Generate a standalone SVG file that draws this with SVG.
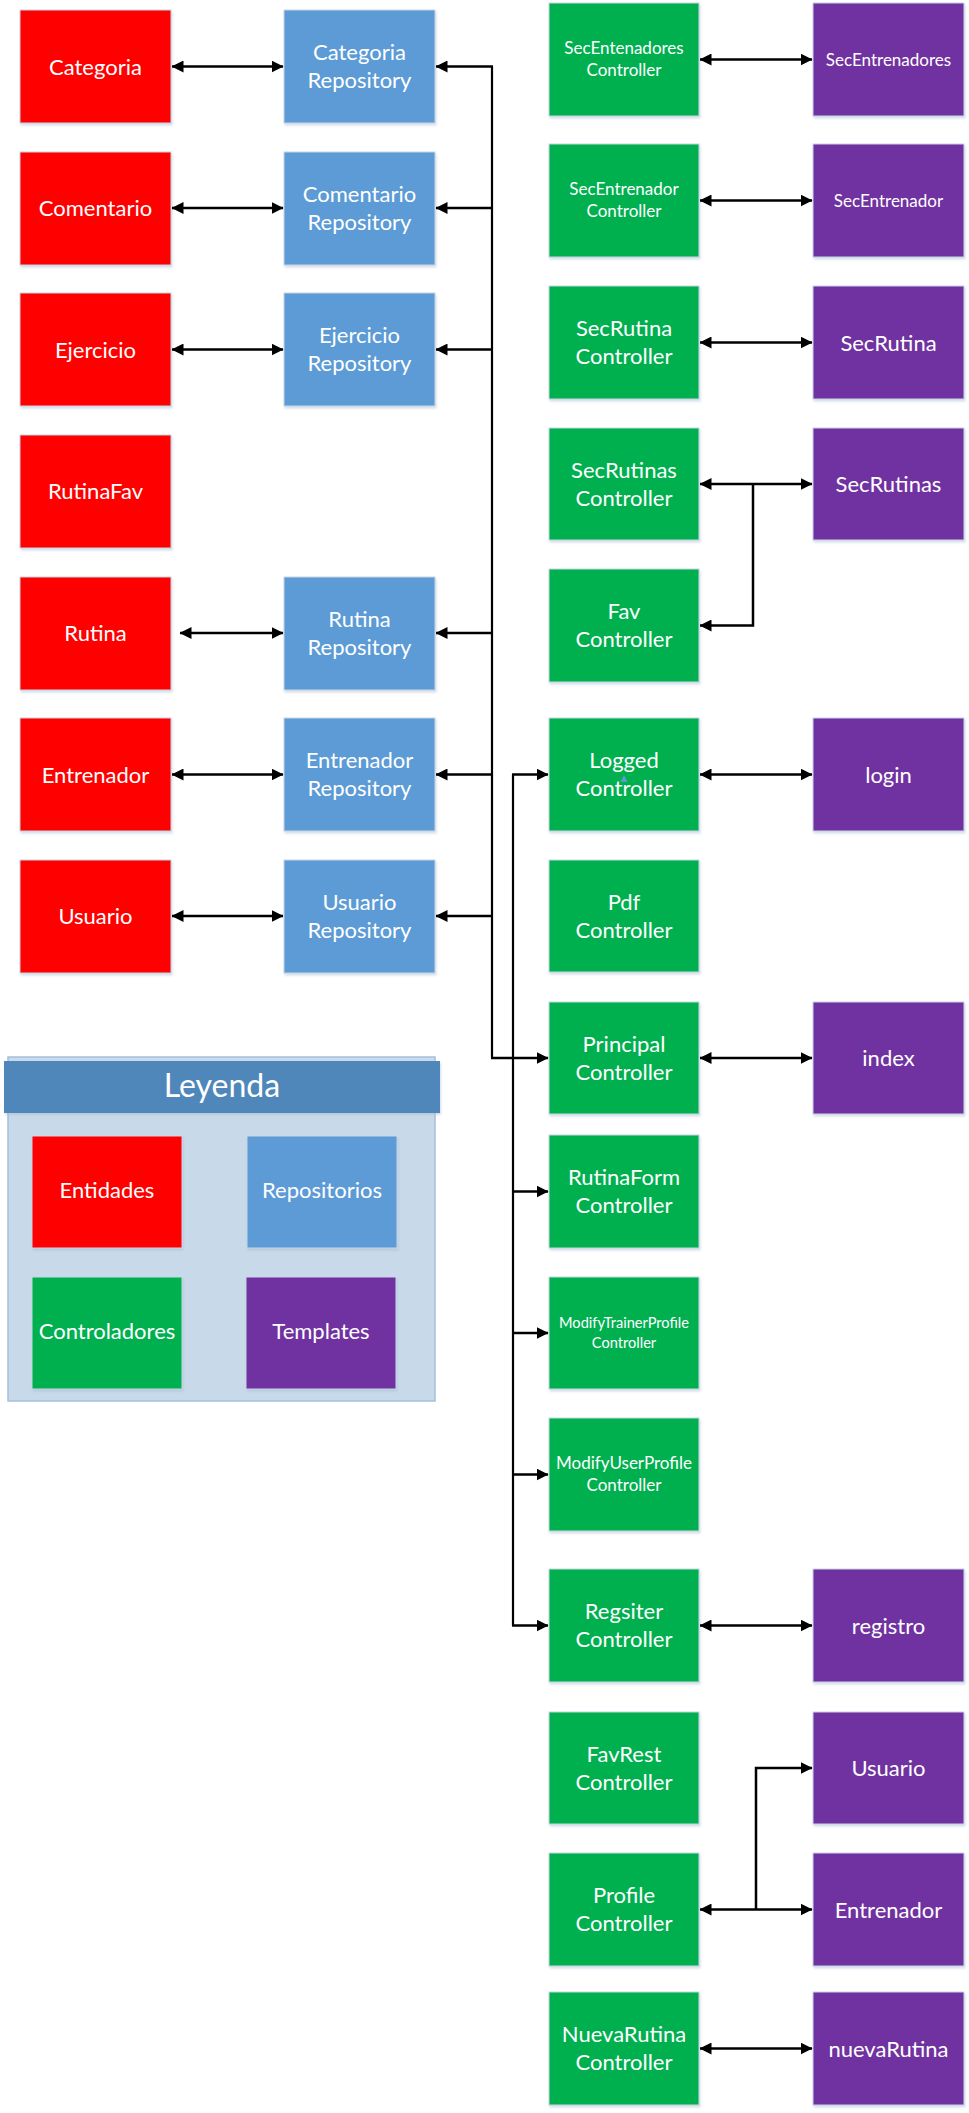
<svg xmlns="http://www.w3.org/2000/svg" width="969" height="2113" viewBox="0 0 969 2113">
<defs>
<marker id="ah" viewBox="0 0 12 12" refX="11.5" refY="6" markerWidth="12" markerHeight="12" markerUnits="userSpaceOnUse" orient="auto-start-reverse">
<path d="M0,0 L12,6 L0,12 z" fill="#000"/>
</marker>
<filter id="sh" x="-5%" y="-5%" width="115%" height="115%">
<feDropShadow dx="1" dy="2" stdDeviation="1.2" flood-color="#9fb6cf" flood-opacity="0.45"/>
</filter>
</defs>
<style>
.box{stroke:#c9d6e4;stroke-width:1;filter:url(#sh)}
.ent{fill:#ff0000}
.rep{fill:#5b9bd5}
.ctl{fill:#00b050}
.tpl{fill:#7030a0}
text{font-family:Lato,"Open Sans","Noto Sans",sans-serif;fill:#ffffff;text-anchor:middle}
.b{font-size:22px}
.s{font-size:17px}
.xs{font-size:14.6px}
.lg{font-size:32px}
.c{fill:none;stroke:#000;stroke-width:2.5}
.d{marker-start:url(#ah);marker-end:url(#ah)}
.e{marker-end:url(#ah)}
.bus{fill:none;stroke:#000;stroke-width:2.2}
</style>

<!-- Entities -->
<g id="n-categoria"><rect class="box ent" x="20" y="10" width="151" height="113"/><text class="b" x="95.5" y="74.5">Categoria</text></g>
<g id="n-comentario"><rect class="box ent" x="20" y="152" width="151" height="113"/><text class="b" x="95.5" y="216">Comentario</text></g>
<g id="n-ejercicio"><rect class="box ent" x="20" y="293" width="151" height="113"/><text class="b" x="95.5" y="357.5">Ejercicio</text></g>
<g id="n-rutinafav"><rect class="box ent" x="20" y="435" width="151" height="113"/><text class="b" x="95.5" y="499">RutinaFav</text></g>
<g id="n-rutina"><rect class="box ent" x="20" y="577" width="151" height="113"/><text class="b" x="95.5" y="641">Rutina</text></g>
<g id="n-entrenador"><rect class="box ent" x="20" y="718" width="151" height="113"/><text class="b" x="95.5" y="782.5">Entrenador</text></g>
<g id="n-usuario"><rect class="box ent" x="20" y="860" width="151" height="113"/><text class="b" x="95.5" y="924">Usuario</text></g>

<!-- Repositories -->
<g id="n-categoria-repo"><rect class="box rep" x="284" y="10" width="151" height="113"/><text class="b" x="359.5" y="60">Categoria</text><text class="b" x="359.5" y="88">Repository</text></g>
<g id="n-comentario-repo"><rect class="box rep" x="284" y="152" width="151" height="113"/><text class="b" x="359.5" y="201.5">Comentario</text><text class="b" x="359.5" y="229.5">Repository</text></g>
<g id="n-ejercicio-repo"><rect class="box rep" x="284" y="293" width="151" height="113"/><text class="b" x="359.5" y="343">Ejercicio</text><text class="b" x="359.5" y="371">Repository</text></g>
<g id="n-rutina-repo"><rect class="box rep" x="284" y="577" width="151" height="113"/><text class="b" x="359.5" y="626.5">Rutina</text><text class="b" x="359.5" y="654.5">Repository</text></g>
<g id="n-entrenador-repo"><rect class="box rep" x="284" y="718" width="151" height="113"/><text class="b" x="359.5" y="768">Entrenador</text><text class="b" x="359.5" y="796">Repository</text></g>
<g id="n-usuario-repo"><rect class="box rep" x="284" y="860" width="151" height="113"/><text class="b" x="359.5" y="909.5">Usuario</text><text class="b" x="359.5" y="937.5">Repository</text></g>

<!-- Controllers -->
<g id="n-secentenadores-ctl"><rect class="box ctl" x="549" y="3" width="150" height="113"/><text class="s" x="624" y="54">SecEntenadores</text><text class="s" x="624" y="76">Controller</text></g>
<g id="n-secentrenador-ctl"><rect class="box ctl" x="549" y="144" width="150" height="113"/><text class="s" x="624" y="195">SecEntrenador</text><text class="s" x="624" y="217">Controller</text></g>
<g id="n-secrutina-ctl"><rect class="box ctl" x="549" y="286" width="150" height="113"/><text class="b" x="624" y="336">SecRutina</text><text class="b" x="624" y="364">Controller</text></g>
<g id="n-secrutinas-ctl"><rect class="box ctl" x="549" y="428" width="150" height="112"/><text class="b" x="624" y="477.5">SecRutinas</text><text class="b" x="624" y="505.5">Controller</text></g>
<g id="n-fav-ctl"><rect class="box ctl" x="549" y="569" width="150" height="113"/><text class="b" x="624" y="619">Fav</text><text class="b" x="624" y="647">Controller</text></g>
<g id="n-logged-ctl"><rect class="box ctl" x="549" y="718" width="150" height="113"/><text class="b" x="624" y="768">Logged</text><text class="b" x="624" y="796">Controller</text><polygon points="624,775 627.5,782 620.5,782" fill="#5b9bd5"/></g>
<g id="n-pdf-ctl"><rect class="box ctl" x="549" y="860" width="150" height="112"/><text class="b" x="624" y="909.5">Pdf</text><text class="b" x="624" y="937.5">Controller</text></g>
<g id="n-principal-ctl"><rect class="box ctl" x="549" y="1002" width="150" height="112"/><text class="b" x="624" y="1051.5">Principal</text><text class="b" x="624" y="1079.5">Controller</text></g>
<g id="n-rutinaform-ctl"><rect class="box ctl" x="549" y="1135" width="150" height="113"/><text class="b" x="624" y="1185">RutinaForm</text><text class="b" x="624" y="1213">Controller</text></g>
<g id="n-modifytrainer-ctl"><rect class="box ctl" x="549" y="1277" width="150" height="112"/><text class="xs" x="624" y="1328">ModifyTrainerProfile</text><text class="xs" x="624" y="1348">Controller</text></g>
<g id="n-modifyuser-ctl"><rect class="box ctl" x="549" y="1418" width="150" height="113"/><text class="s" x="624" y="1469">ModifyUserProfile</text><text class="s" x="624" y="1491">Controller</text></g>
<g id="n-regsiter-ctl"><rect class="box ctl" x="549" y="1569" width="150" height="113"/><text class="b" x="624" y="1619">Regsiter</text><text class="b" x="624" y="1647">Controller</text></g>
<g id="n-favrest-ctl"><rect class="box ctl" x="549" y="1712" width="150" height="112"/><text class="b" x="624" y="1761.5">FavRest</text><text class="b" x="624" y="1789.5">Controller</text></g>
<g id="n-profile-ctl"><rect class="box ctl" x="549" y="1853" width="150" height="113"/><text class="b" x="624" y="1903">Profile</text><text class="b" x="624" y="1931">Controller</text></g>
<g id="n-nuevarutina-ctl"><rect class="box ctl" x="549" y="1992" width="150" height="113"/><text class="b" x="624" y="2042">NuevaRutina</text><text class="b" x="624" y="2070">Controller</text></g>

<!-- Templates -->
<g id="n-secentrenadores-tpl"><rect class="box tpl" x="813" y="3" width="151" height="113"/><text class="s" x="888.5" y="65.5">SecEntrenadores</text></g>
<g id="n-secentrenador-tpl"><rect class="box tpl" x="813" y="144" width="151" height="113"/><text class="s" x="888.5" y="206.5">SecEntrenador</text></g>
<g id="n-secrutina-tpl"><rect class="box tpl" x="813" y="286" width="151" height="113"/><text class="b" x="888.5" y="350.5">SecRutina</text></g>
<g id="n-secrutinas-tpl"><rect class="box tpl" x="813" y="428" width="151" height="112"/><text class="b" x="888.5" y="492">SecRutinas</text></g>
<g id="n-login-tpl"><rect class="box tpl" x="813" y="718" width="151" height="113"/><text class="b" x="888.5" y="782.5">login</text></g>
<g id="n-index-tpl"><rect class="box tpl" x="813" y="1002" width="151" height="112"/><text class="b" x="888.5" y="1066">index</text></g>
<g id="n-registro-tpl"><rect class="box tpl" x="813" y="1569" width="151" height="113"/><text class="b" x="888.5" y="1633.5">registro</text></g>
<g id="n-usuario-tpl"><rect class="box tpl" x="813" y="1712" width="151" height="112"/><text class="b" x="888.5" y="1776">Usuario</text></g>
<g id="n-entrenador-tpl"><rect class="box tpl" x="813" y="1853" width="151" height="113"/><text class="b" x="888.5" y="1917.5">Entrenador</text></g>
<g id="n-nuevarutina-tpl"><rect class="box tpl" x="813" y="1992" width="151" height="113"/><text class="b" x="888.5" y="2056.5">nuevaRutina</text></g>

<!-- Legend -->
<g id="legend">
<rect x="8" y="1057" width="427" height="344" fill="#c8daea" stroke="#a5c0dc" stroke-width="1.5"/>
<rect x="4" y="1061" width="436" height="52" fill="#4f87ba" filter="url(#sh)"/>
<text class="lg" x="222" y="1097">Leyenda</text>
<g id="legend-entidades"><rect class="box ent" x="32" y="1136" width="150" height="112"/><text class="b" x="107" y="1198">Entidades</text></g>
<g id="legend-repositorios"><rect class="box rep" x="247" y="1136" width="150" height="112"/><text class="b" x="322" y="1198">Repositorios</text></g>
<g id="legend-controladores"><rect class="box ctl" x="32" y="1277" width="150" height="112"/><text class="b" x="107" y="1339">Controladores</text></g>
<g id="legend-templates"><rect class="box tpl" x="246" y="1277" width="150" height="112"/><text class="b" x="321" y="1339">Templates</text></g>
</g>

<!-- Connectors -->
<g id="connectors">
<line class="c d" x1="172" y1="66.5" x2="283" y2="66.5"/>
<line class="c d" x1="172" y1="208" x2="283" y2="208"/>
<line class="c d" x1="172" y1="349.5" x2="283" y2="349.5"/>
<line class="c d" x1="180" y1="633" x2="283" y2="633"/>
<line class="c d" x1="172" y1="774.5" x2="283" y2="774.5"/>
<line class="c d" x1="172" y1="916" x2="283" y2="916"/>

<polyline class="bus" points="492,66.5 492,1058"/>
<line class="c e" x1="493" y1="66.5" x2="436" y2="66.5"/>
<line class="c e" x1="492" y1="208" x2="436" y2="208"/>
<line class="c e" x1="492" y1="349.5" x2="436" y2="349.5"/>
<line class="c e" x1="492" y1="633" x2="436" y2="633"/>
<line class="c e" x1="492" y1="774.5" x2="436" y2="774.5"/>
<line class="c e" x1="492" y1="916" x2="436" y2="916"/>
<line class="c e" x1="491" y1="1058" x2="548" y2="1058"/>

<polyline class="bus" points="513,774.5 513,1625.5"/>
<line class="c e" x1="512" y1="774.5" x2="548" y2="774.5"/>
<line class="c e" x1="513" y1="1191.5" x2="548" y2="1191.5"/>
<line class="c e" x1="513" y1="1333" x2="548" y2="1333"/>
<line class="c e" x1="513" y1="1474.5" x2="548" y2="1474.5"/>
<line class="c e" x1="512" y1="1625.5" x2="548" y2="1625.5"/>

<line class="c d" x1="700" y1="59.5" x2="812" y2="59.5"/>
<line class="c d" x1="700" y1="200.5" x2="812" y2="200.5"/>
<line class="c d" x1="700" y1="342.5" x2="812" y2="342.5"/>
<line class="c d" x1="700" y1="484" x2="812" y2="484"/>
<polyline class="c e" points="753,484 753,625.5 700,625.5"/>
<line class="c d" x1="700" y1="774.5" x2="812" y2="774.5"/>
<line class="c d" x1="700" y1="1058" x2="812" y2="1058"/>
<line class="c d" x1="700" y1="1625.5" x2="812" y2="1625.5"/>
<line class="c d" x1="700" y1="1909.5" x2="812" y2="1909.5"/>
<polyline class="c e" points="756,1909.5 756,1768 812,1768"/>
<line class="c d" x1="700" y1="2048.5" x2="812" y2="2048.5"/>
</g>
</svg>
